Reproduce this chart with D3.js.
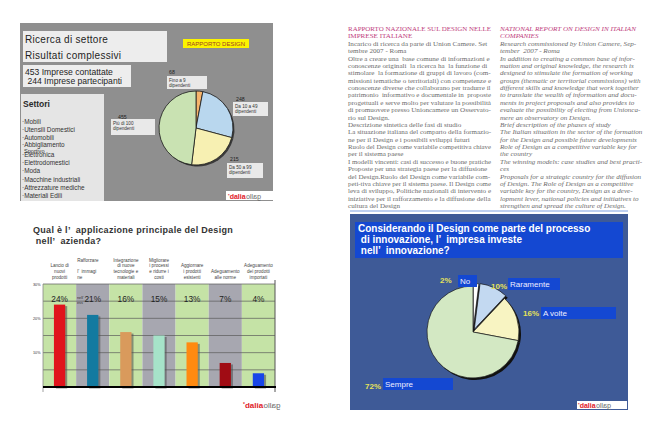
<!DOCTYPE html>
<html><head><meta charset="utf-8">
<script src="https://cdn.jsdelivr.net/npm/d3@7"></script>
<style>body{margin:0;background:#fff}svg{display:block}</style>
</head><body><svg id="c" width="648" height="430"></svg>
<script>
// ---------- DATA ----------
const sizeClasses = ["Fino a 9 dipendenti", "Da 10 a 49 dipendenti", "Da 50 a 99 dipendenti", "Più di 100 dipendenti"];
const sizeCounts = [28, 248, 215, 455];
const settori = ["Mobili", "Utensili Domestici", "Automobili", "Abbigliamento", "Elettronica", "Elettrodomestici", "Moda", "Macchine industriali", "Attrezzature mediche", "Materiali Edili"];
const summaryLines = ["453 Imprese contattate", " 244 Imprese partecipanti"];

const barCategories = [
  ["Lancio di", "nuovi", "prodotti"],
  ["Rafforzare", "", "l’  immagi", "ne"],
  ["Integrazione", "di nuove", "tecnologie e", "materiali"],
  ["Migliorare", "i processi", "e ridurre i", "costi"],
  ["Aggiornare", "i prodotti", "esistenti"],
  ["Adeguamento", "alle norme"],
  ["Adeguamento", "dei prodotti", "importati"]
];
const barValues = [24, 21, 16, 15, 13, 7, 4];
const barTicks = [10, 20, 30];

const innovCategories = ["No", "Raramente", "A volte", "Sempre"];
const innovValues = [2, 10, 16, 72];

const itHeading = ["RAPPORTO NAZIONALE SUL DESIGN NELLE", "IMPRESE ITALIANE"];
const itBody = [
  "Incarico di ricerca da parte di Union Camere. Set",
  "tembre 2007 - Roma",
  "Oltre a creare una  base comune di informazioni e",
  "conoscenze originali  la ricerca ha  la funzione di",
  "stimolare  la formazione di gruppi di lavoro (com-",
  "missioni tematiche o territoriali) con competenze e",
  "conoscenze diverse che collaborano per tradurre il",
  "patrimonio  informativo e documentale in  proposte",
  "progettuali e serve molto per valutare la possibilità",
  "di promuovere presso Unioncamere un Osservato-",
  "rio sul Design.",
  "Descrizione sintetica delle fasi di studio",
  "La situazione italiana del comparto della formazio-",
  "ne per il Design e i possibili sviluppi futuri",
  "Ruolo del Design come variabile competitiva chiave",
  "per il sistema paese",
  "I modelli vincenti: casi di successo e buone pratiche",
  "Proposte per una strategia paese per la diffusione",
  "del Design.Ruolo del Design come variabile com-",
  "peti-tiva chiave per il sistema paese. Il Design come",
  "leva di sviluppo, Politiche nazionali di intervento e",
  "iniziative per il rafforzamento e la diffusione della",
  "cultura del Design"
];
const enHeading = ["NATIONAL REPORT ON DESIGN IN ITALIAN", "COMPANIES"];
const enBody = [
  "Research commissioned by Union Camere, Sep-",
  "tember  2007 - Roma",
  "In addition to creating a common base of infor-",
  "mation and original knowledge, the research is",
  "designed to stimulate the formation of working",
  "groups (thematic or territorial commissions) with",
  "different skills and knowledge that work together",
  "to translate the wealth of information and docu-",
  "ments in project proposals and also provides to",
  "evaluate the possibility of electing from Unionca-",
  "mere an observatory on Design.",
  "Brief description of the phases of study",
  "The Italian situation in the sector of the formation",
  "for the Design and possible future developments",
  "Role of Design as a competitive variable key for",
  "the country",
  "The winning models: case studies and best practi-",
  "ces",
  "Proposals for a strategic country for the diffusion",
  "of Design. The Role of Design as a competitive",
  "variable key for the country, Design as a deve-",
  "lopment lever, national policies and initiatives to",
  "strengthen and spread the culture of Design."
];

// ---------- STYLES ----------
const SANS = "'Liberation Sans', Arial, sans-serif";
const SERIF = "'Liberation Serif', 'DejaVu Serif', serif";
const sizeColors = ["#f6b46c", "#b9d7ee", "#f7f0b2", "#c9e2b2"];
const barColors = ["#e0141c", "#137aa0", "#d99a5c", "#a6e3c9", "#ff8a10", "#a00c14", "#1846e8"];
const innovColors = ["#ffffff", "#c3d9f1", "#f8f4c2", "#d3e8c3"];

const svg = d3.select("#c");

function logo(g, x, y, fs) {
  const t = g.append("text").attr("x", x).attr("y", y).attr("font-family", SANS).attr("font-size", fs).attr("font-weight", "bold");
  t.append("tspan").attr("fill", "#e0202a").attr("font-size", fs * 0.6).attr("dy", -fs * 0.3).text("*");
  t.append("tspan").attr("fill", "#e0202a").attr("dy", fs * 0.3).text("dalia");
  const w = t.node().getComputedTextLength();
  g.append("text").attr("transform", `translate(${x + w + 0.5},${y}) scale(-1,1)`)
    .attr("text-anchor", "end").attr("font-family", SANS).attr("font-size", fs)
    .attr("fill", "#6a6a6a").text("gallo");
}

// ---------- PANEL 1 : pie of company sizes ----------
const p1 = svg.append("g");
p1.append("rect").attr("x", 20).attr("y", 23).attr("width", 253).attr("height", 178).attr("fill", "#8f8f8f");
p1.append("rect").attr("x", 23).attr("y", 31).attr("width", 144).attr("height", 31).attr("fill", "#ededed");
p1.append("text").attr("x", 25).attr("y", 43).attr("font-family", SANS).attr("font-size", 10).attr("fill", "#1e1e1e").attr("letter-spacing", 0.3).text("Ricerca di settore");
p1.append("text").attr("x", 25).attr("y", 59).attr("font-family", SANS).attr("font-size", 10).attr("fill", "#1e1e1e").attr("letter-spacing", 0.3).text("Risultati complessivi");
p1.append("rect").attr("x", 23).attr("y", 65).attr("width", 108).attr("height", 22).attr("fill", "#ededed");
summaryLines.forEach((s, i) => p1.append("text").attr("x", 25).attr("y", 75 + i * 9.3)
  .attr("font-family", SANS).attr("font-size", 8.6).attr("fill", "#1e1e1e").attr("xml:space", "preserve").text(s));
p1.append("rect").attr("x", 21).attr("y", 94).attr("width", 83).attr("height", 107).attr("fill", "#e5e5e5");
p1.append("text").attr("x", 23).attr("y", 107).attr("font-family", SANS).attr("font-size", 8.5).attr("font-weight", "bold").attr("fill", "#2a2a2a").text("Settori");
settori.forEach((s, i) => {
  const y = 123.5 + i * 8.1 + (i > 3 ? 1.3 : 0);
  p1.append("text").attr("x", 22).attr("y", s === "Abbigliamento" ? y - 1 : y).attr("font-family", SANS).attr("font-size", 6.4).attr("fill", "#333").text("·" + s);
  if (s === "Abbigliamento") p1.append("text").attr("x", 24).attr("y", y + 5.2).attr("font-family", SANS).attr("font-size", 5.6).attr("fill", "#333").text("Sportivo");
});
p1.append("rect").attr("x", 183).attr("y", 39).attr("width", 66).attr("height", 9).attr("fill", "#fbf400");
p1.append("text").attr("x", 216).attr("y", 46).attr("text-anchor", "middle").attr("font-family", SANS).attr("font-size", 6).attr("fill", "#a04020").text("RAPPORTO DESIGN");

const pie1 = d3.pie().sort(null).value(d => d)(sizeCounts);
const arc1 = d3.arc().innerRadius(0).outerRadius(37);
const pg1 = p1.append("g").attr("transform", "translate(196,128)");
pg1.selectAll("path.sh").data(pie1).join("path").attr("transform", "translate(1.5,1.5)").attr("d", arc1).attr("fill", "#3a3a3a");
pg1.selectAll("path.sl").data(pie1).join("path").attr("d", arc1).attr("fill", (d, i) => sizeColors[i]).attr("stroke", "#1a1a1a").attr("stroke-width", 0.8);

const p1Labels = [[167, 72, 167, 76, 40, 13], [234, 99, 233, 102, 35, 14], [228, 159, 227, 163, 36, 15], [116, 117, 111, 119, 44, 16]];
const p1LabelText = [["Fino a 9", "dipendenti"], ["Da 10 a 49", "dipendenti"], ["Da 50 a 99", "dipendenti"], ["Più di 100", "dipendenti"]];
sizeCounts.forEach((v, i) => {
  const [nx, ny, bx, by, bw, bh] = p1Labels[i];
  p1.append("text").attr("x", nx + 2).attr("y", ny + 2).attr("font-family", SANS).attr("font-size", 5.2).attr("fill", "#222").text(i === 0 ? "68" : v);
  p1.append("rect").attr("x", bx).attr("y", by).attr("width", bw).attr("height", bh).attr("fill", "#e9e9e9");
  p1LabelText[i].forEach((t, j) => p1.append("text").attr("x", bx + 2).attr("y", by + 5.5 + j * 5.5)
    .attr("font-family", SANS).attr("font-size", 4.6).attr("fill", "#333").text(t));
});
p1.append("rect").attr("x", 226).attr("y", 191).attr("width", 47).attr("height", 9).attr("fill", "#fff");
logo(p1, 228, 199, 7);

// ---------- PANEL 2 : text columns ----------
const p2 = svg.append("g");
function column(x, heading, body, italic) {
  const lh = 7.38, fs = 7.1, maxW = 143;
  const lines = heading.map(t => ({ t, h: true })).concat(body.map(t => ({ t, h: false })));
  lines.forEach((l, i) => {
    const t = p2.append("text").attr("x", x).attr("y", 31 + i * lh).attr("font-family", SERIF)
      .attr("font-size", fs).attr("font-style", italic ? "italic" : "normal")
      .attr("fill", l.h ? "#c0407e" : "#6c6c6c").attr("xml:space", "preserve").text(l.t);
    if (t.node().getComputedTextLength() > maxW) t.attr("textLength", maxW).attr("lengthAdjust", "spacingAndGlyphs");
  });
}
column(348, itHeading, itBody, false);
column(500, enHeading, enBody, true);
p2.append("line").attr("x1", 350).attr("x2", 628).attr("y1", 211).attr("y2", 211).attr("stroke", "#a8c0ec").attr("stroke-width", 1.5);

// ---------- PANEL 3 : bar chart ----------
const p3 = svg.append("g");
p3.append("text").attr("x", 33).attr("y", 233).attr("font-family", SANS).attr("font-size", 9).attr("font-weight", "bold").attr("fill", "#333").attr("letter-spacing", 0.3).attr("xml:space", "preserve").text("Qual è l’  applicazione principale del Design");
p3.append("text").attr("x", 33).attr("y", 243.5).attr("font-family", SANS).attr("font-size", 9).attr("font-weight", "bold").attr("fill", "#333").attr("letter-spacing", 0.3).attr("xml:space", "preserve").text(" nell’  azienda?");

const xB = d3.scaleBand().domain(d3.range(barValues.length)).range([43, 275]).padding(0);
const yB = d3.scaleLinear().domain([0, 30]).range([387, 284]);
p3.selectAll("rect.col").data(barValues).join("rect").attr("x", (d, i) => xB(i)).attr("y", yB(30)).attr("width", xB.bandwidth()).attr("height", yB(0) - yB(30))
  .attr("fill", (d, i) => i % 2 ? "#a7a7b0" : "#c5e3a6");
p3.selectAll("line.grid").data(d3.range(5, 31, 5)).join("line").attr("x1", 43).attr("x2", 275).attr("y1", d => yB(d)).attr("y2", d => yB(d)).attr("stroke", "#5a5a5a").attr("stroke-width", 0.7);
p3.append("line").attr("x1", 43).attr("x2", 43).attr("y1", yB(30)).attr("y2", 392).attr("stroke", "#888").attr("stroke-width", 0.8);
p3.append("line").attr("x1", 275).attr("x2", 275).attr("y1", 280).attr("y2", 392).attr("stroke", "#555").attr("stroke-width", 1);
const bw = xB.bandwidth() * 0.34;
p3.selectAll("rect.bsh").data(barValues).join("rect").attr("x", (d, i) => xB(i) + (xB.bandwidth() - bw) / 2 + 2).attr("y", d => yB(d) + 1.5).attr("width", bw).attr("height", d => yB(0) - yB(d)).attr("fill", "#4a4a4a").attr("opacity", 0.55);
p3.selectAll("rect.bar").data(barValues).join("rect").attr("x", (d, i) => xB(i) + (xB.bandwidth() - bw) / 2).attr("y", d => yB(d)).attr("width", bw).attr("height", d => yB(0) - yB(d)).attr("fill", (d, i) => barColors[i]);
p3.append("line").attr("x1", 43).attr("x2", 276).attr("y1", yB(0)).attr("y2", yB(0)).attr("stroke", "#000").attr("stroke-width", 2);
p3.selectAll("text.pct").data(barValues).join("text").attr("x", (d, i) => xB(i) + xB.bandwidth() / 2).attr("y", 302).attr("text-anchor", "middle").attr("font-family", SANS).attr("font-size", 8.3).attr("fill", "#222").text(d => d + "%");
p3.selectAll("text.tk").data(barTicks).join("text").attr("x", 33).attr("y", d => yB(d) + 1.5).attr("font-family", SANS).attr("font-size", 3.8).attr("fill", "#333").text(d => d + "%");
barCategories.forEach((lines, i) => {
  const cx = xB(i) + xB.bandwidth() / 2;
  lines.forEach((t, j) => p3.append("text").attr("x", i === 1 ? xB(i) + 1 : cx).attr("y", 279 - (lines.length - 1 - j) * 5.8)
    .attr("text-anchor", i === 1 ? "start" : "middle").attr("font-family", SANS).attr("font-size", 4.6).attr("fill", "#444").attr("xml:space", "preserve").text(t));
});
p3.append("text").attr("x", 77).attr("y", 299).attr("font-family", SANS).attr("font-size", 3.8).attr("fill", "#333").text("nell’");
p3.append("text").attr("x", 77).attr("y", 303.5).attr("font-family", SANS).attr("font-size", 3.8).attr("fill", "#333").text("ess");
logo(p3, 243, 408, 8);

// ---------- PANEL 4 : innovation pie ----------
const p4 = svg.append("g");
p4.append("rect").attr("x", 350).attr("y", 214).attr("width", 278).attr("height", 196).attr("fill", "#3e5a97");
p4.append("rect").attr("x", 355).attr("y", 222).attr("width", 268).attr("height", 36).attr("fill", "#1448d2");
["Considerando il Design come parte del processo", " di innovazione, l’  impresa investe", " nell’  innovazione?"].forEach((t, i) =>
  p4.append("text").attr("x", 358).attr("y", 231.5 + i * 11.3).attr("font-family", SANS).attr("font-size", 10).attr("font-weight", "bold").attr("fill", "#fff").attr("xml:space", "preserve").text(t));

const pie2 = d3.pie().sort(null).value(d => d)(innovValues);
const arc2 = d3.arc().innerRadius(0).outerRadius(46);
const explode = [2.5, 3, 0, 0];
const pg2 = p4.append("g").attr("transform", "translate(473,332)");
function off(d, i) { const a = (d.startAngle + d.endAngle) / 2; return `translate(${Math.sin(a) * explode[i]},${-Math.cos(a) * explode[i]})`; }
pg2.selectAll("path.sh").data(pie2).join("path").attr("transform", (d, i) => off(d, i) + " translate(2,2)").attr("d", arc2).attr("fill", "#111");
pg2.selectAll("path.sl").data(pie2).join("path").attr("transform", off).attr("d", arc2).attr("fill", (d, i) => innovColors[i]).attr("stroke", "#1a1a1a").attr("stroke-width", 0.7);

const p4Pos = [[440, 283, 458, 275, 19], [491, 289, 508, 278, 52], [523, 316, 541, 307, 75], [365, 389, 383, 378, 70]];
innovValues.forEach((v, i) => {
  const [px, py, bx, by, bw2] = p4Pos[i];
  p4.append("rect").attr("x", bx).attr("y", by).attr("width", bw2).attr("height", 12).attr("fill", "#1448d2");
  p4.append("text").attr("x", px).attr("y", py).attr("font-family", SANS).attr("font-size", 8).attr("font-weight", "bold").attr("fill", "#e6e25a").text(v + "%");
  p4.append("text").attr("x", bx + 2).attr("y", by + 8.5).attr("font-family", SANS).attr("font-size", 8).attr("fill", "#eef").text(innovCategories[i]);
});
p4.append("rect").attr("x", 577).attr("y", 401).attr("width", 50).attr("height", 8).attr("fill", "#fff");
logo(p4, 578, 408, 7);
</script></body></html>
